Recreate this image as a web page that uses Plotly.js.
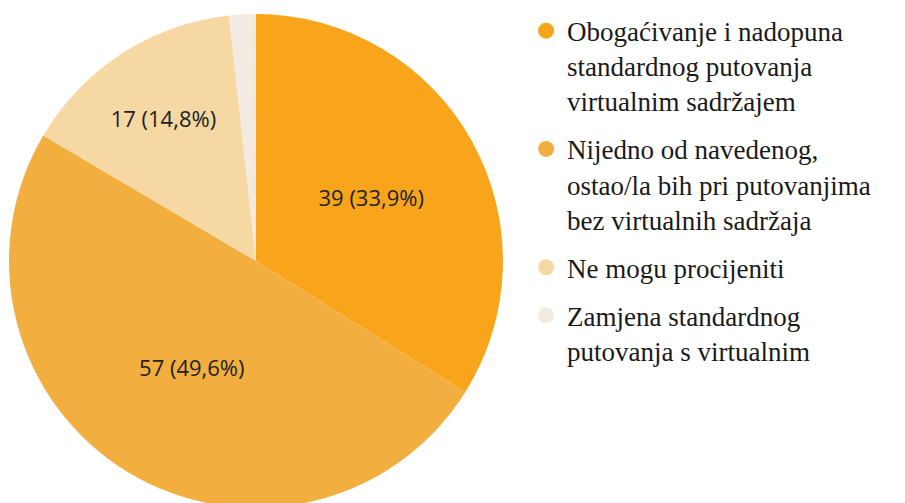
<!DOCTYPE html>
<html>
<head>
<meta charset="utf-8">
<script src="https://cdn.plot.ly/plotly-3.0.1.min.js"></script>
<style>
html,body{margin:0;padding:0;overflow:hidden;background:#fff;}
#chart{width:905px;height:512px;}
</style>
</head>
<body>
<div id="chart"></div>
<script>
const categories = [
  "Obogaćivanje i nadopuna<br>standardnog putovanja<br>virtualnim sadržajem",
  "Nijedno od navedenog,<br>ostao/la bih pri putovanjima<br>bez virtualnih sadržaja",
  "Ne mogu procijeniti",
  "Zamjena standardnog<br>putovanja s virtualnim"
];
const values = [39, 57, 17, 2];
const colors = ["#F8A51C", "#F2AF40", "#F6D8A3", "#F3EBE1"];
const labelTemplates = ["%{value} (%{percent:.1%})", "%{value} (%{percent:.1%})", "%{value} (%{percent:.1%})", ""];

const data = [{
  type: "pie",
  labels: categories,
  values: values,
  sort: false,
  direction: "clockwise",
  rotation: 0,
  marker: {colors: colors, line: {width: 0}},
  texttemplate: labelTemplates,
  textposition: "inside",
  insidetextorientation: "horizontal",
  insidetextfont: {family: "Open Sans, sans-serif", size: 22, color: "#222"},
  hoverinfo: "label+value+percent",
  showlegend: false,
  domain: {x: [0, 0.5513], y: [0, 1]}
}];

// legend entries drawn as circle-marker traces (one per category)
categories.forEach((c, i) => {
  data.push({
    type: "scatter",
    mode: "markers",
    x: [0], y: [0],
    name: c,
    legendgroup: "g" + i,
    marker: {symbol: "circle", size: 16, color: colors[i]},
    showlegend: true,
    hoverinfo: "skip"
  });
});

const layout = {
  width: 905,
  height: 512,
  margin: {l: 9, r: 0, t: 14, b: 4},
  paper_bgcolor: "#fff",
  plot_bgcolor: "rgba(0,0,0,0)",
  separators: ", ",
  showlegend: true,
  xaxis: {visible: false, domain: [0.999, 1], range: [10, 11]},
  yaxis: {visible: false, domain: [0.999, 1], range: [10, 11]},
  legend: {
    x: 0.576, y: 1.015, xanchor: "left", yanchor: "top",
    font: {family: "Liberation Serif, serif", size: 27, color: "#1a1a1a"},
    valign: "top",
    tracegroupgap: 10,
    traceorder: "grouped",
    itemwidth: 32,
    maxheight: 500,
    bgcolor: "rgba(0,0,0,0)"
  }
};

Plotly.newPlot("chart", data, layout, {displayModeBar: false, staticPlot: true});
</script>
</body>
</html>
